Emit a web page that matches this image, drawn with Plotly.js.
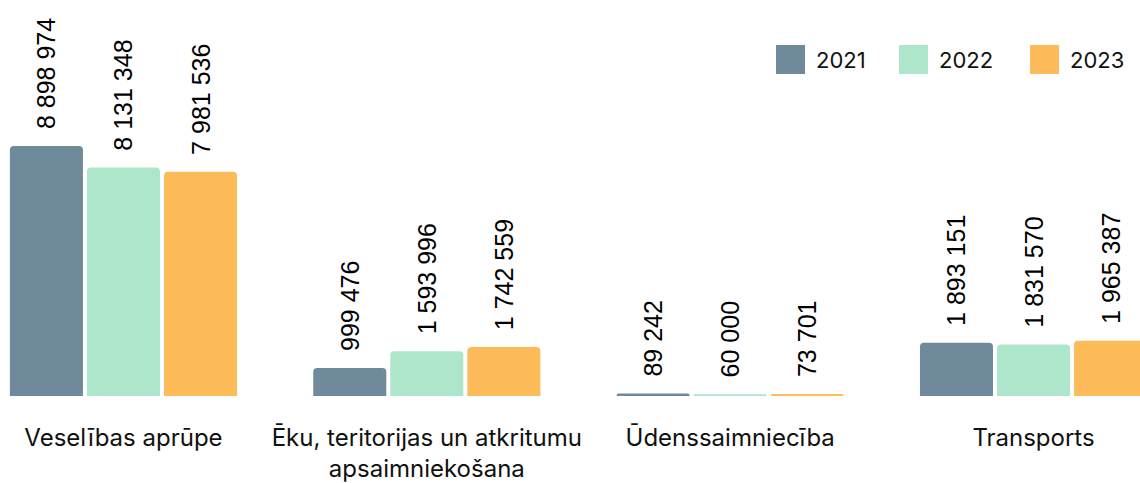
<!DOCTYPE html>
<html>
<head>
<meta charset="utf-8">
<script src="https://cdn.plot.ly/plotly-3.0.1.min.js"></script>
<style>html,body{margin:0;padding:0;background:#fff;}#chart{width:1140px;height:483px;}</style>
</head>
<body>
<div id="chart"></div>
<script>
const categories = ["Veselības aprūpe", "Ēku, teritorijas un atkritumu<br>apsaimniekošana", "Ūdenssaimniecība", "Transports"];
const seriesNames = ["2021", "2022", "2023"];
const values2021 = [8898974, 999476, 89242, 1893151];
const values2022 = [8131348, 1593996, 60000, 1831570];
const values2023 = [7981536, 1742559, 73701, 1965387];
const seriesValues = [values2021, values2022, values2023];
const colors = ["#6E8A9B", "#ADE6CA", "#FDBB5A"];

function fmt(v) { return String(v).replace(/\B(?=(\d{3})+(?!\d))/g, " "); }

const traces = seriesValues.map((vals, i) => ({
  type: "bar",
  name: seriesNames[i],
  x: categories,
  y: vals,
  text: vals.map(v => "\u00a0\u00a0" + fmt(v)),
  textposition: "outside",
  textangle: -90,
  constraintext: "none",
  cliponaxis: false,
  textfont: {family: "Liberation Sans, Arial, sans-serif", size: 25, color: "#000"},
  marker: {color: colors[i], cornerradius: 4},
  hoverinfo: "skip"
}));

const plotH = 396;
const shapes = [];
const annotations = [];
const legendX = [776, 899, 1030];
seriesNames.forEach((n, i) => {
  shapes.push({type: "rect", xref: "paper", yref: "paper",
    x0: legendX[i] / 1140, x1: (legendX[i] + 29) / 1140,
    y0: 1 - 74 / plotH, y1: 1 - 45 / plotH,
    fillcolor: colors[i], line: {width: 0}});
  annotations.push({xref: "paper", yref: "paper", x: (legendX[i] + 38) / 1140, y: 1 - 59.5 / plotH,
    xanchor: "left", yanchor: "middle", text: n, showarrow: false,
    font: {family: "Inter, sans-serif", size: 22, color: "#111"}});
});

const layout = {
  width: 1140, height: 483,
  margin: {l: 0, r: 0, t: 0, b: 87},
  paper_bgcolor: "#fff", plot_bgcolor: "#fff",
  barmode: "group", bargap: 0.238, bargroupgap: 0.052,
  showlegend: false,
  xaxis: {type: "category", range: [-0.407, 3.351], showgrid: false, zeroline: false, showline: false,
    ticks: "", ticklabelstandoff: 25, automargin: false,
    tickfont: {family: "Inter, sans-serif", size: 24, color: "#111"}},
  yaxis: {range: [0, 14096000], visible: false, showgrid: false, zeroline: false},
  shapes: shapes,
  annotations: annotations
};

Plotly.newPlot("chart", traces, layout, {displayModeBar: false, staticPlot: true});
</script>
</body>
</html>
